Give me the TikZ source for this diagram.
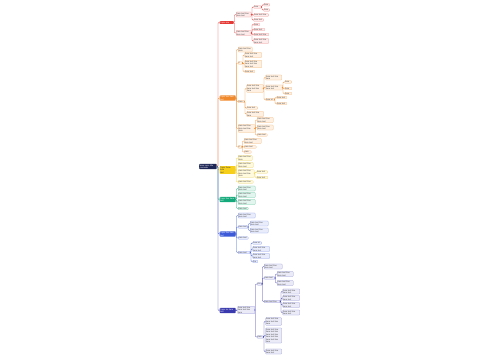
\documentclass[tikz,border=0pt]{standalone}
\usepackage{fontspec}
\setmainfont{Liberation Sans}
\usetikzlibrary{calc}
\definecolor{navy}{HTML}{1E2756}
\definecolor{red}{HTML}{E53935}\definecolor{redL}{HTML}{FDEBEB}\definecolor{redB}{HTML}{F19A9A}
\definecolor{org}{HTML}{F0892B}\definecolor{orgL}{HTML}{FEF1E4}\definecolor{orgB}{HTML}{F4B77A}
\definecolor{yel}{HTML}{F6CF1A}\definecolor{yelL}{HTML}{FFF9DD}\definecolor{yelB}{HTML}{EBD36A}
\definecolor{grn}{HTML}{14A97A}\definecolor{grnL}{HTML}{E2F5EE}\definecolor{grnB}{HTML}{6CCBA6}
\definecolor{blu}{HTML}{3D5BD9}\definecolor{bluL}{HTML}{E8ECFB}\definecolor{bluB}{HTML}{94A5EC}
\definecolor{ind}{HTML}{3A3AAE}\definecolor{indL}{HTML}{EBEBF8}\definecolor{indB}{HTML}{9C9CD9}
\tikzset{
  base/.style={anchor=west, inner sep=0.5pt, rounded corners=0.6pt,
    font=\fontsize{2.1}{2.5}\selectfont, align=left},
  rootbox/.style={base, fill=navy, text=white},
  lone/.style={base, fill=#1, text=white},
  kid/.style={base, fill=#1L, draw=#1B, line width=0.25pt, text=black!75},
  ln/.style={draw=#1, line width=0.35pt, rounded corners=0.8pt},
}
\newcommand\nd[6]{\node[#2,text width=#5pt] (#1) at (#3,#4) {#6};}
\newcommand\cn[3]{\draw[ln=#1] (#2.east) -| ($(#3.west)+(-1.5,0)$) -- (#3.west);}
\begin{document}
\begin{tikzpicture}[x=1pt,y=-1pt]
\useasboundingbox[fill=white] (0,0) rectangle (500,360);
% root
\nd{root}{rootbox}{199}{166.5}{16.5}{Main topic title\\overview}
% level 1
\nd{r}{lone=red}{219.5}{22.5}{13}{Topic one}
\nd{o}{lone=org}{219.5}{98}{15}{Topic two item\\text}
\nd{y}{base,fill=yel,text=black!80}{219.5}{170}{15}{Topic three item\\text}
\nd{g}{lone=grn}{219.5}{199.5}{15}{Topic four item\\text}
\nd{b}{lone=blu}{219.5}{234}{15}{Topic five item\\text}
\nd{p}{lone=ind}{219.5}{310.5}{15}{Topic six item\\text}
\foreach \c/\n in {red/r,org/o,yel/y,grn/g,blu/b,ind/p}{\cn{\c}{root}{\n}}
% red
\nd{ra}{kid=red}{236}{14.5}{14}{Item text line\\item text}
\nd{rb}{kid=red}{236}{33}{14}{Item text line\\item text}
\nd{ra1}{kid=red}{253.5}{7}{7}{Item}
\nd{ra1a}{kid=red}{263.5}{4.8}{5}{Item}
\nd{ra1b}{kid=red}{263.5}{10}{5}{Item}
\nd{ra2}{kid=red}{253.5}{15}{14}{Item text line}
\nd{ra3}{kid=red}{253.5}{20}{9}{Item text}
\nd{rb1}{kid=red}{253.5}{24.5}{5}{Item}
\nd{rb2}{kid=red}{253.5}{29.5}{10}{Item text}
\nd{rb3}{kid=red}{253.5}{34.5}{14}{Item text line}
\nd{rb4}{kid=red}{253.5}{41}{14}{Item text line\\item text}
\foreach \a/\b in {r/ra,r/rb,ra/ra1,ra1/ra1a,ra1/ra1b,ra/ra2,ra/ra3,rb/rb1,rb/rb2,rb/rb3,rb/rb4}{\cn{red}{\a}{\b}}
% orange
\nd{oa}{kid=org}{238}{49.5}{13}{Item text line\\item}
\nd{ob}{kid=org}{238}{63}{3.5}{It}
\nd{ob1}{kid=org}{244.5}{55}{16}{Item text line\\item text}
\nd{ob2}{kid=org}{244.5}{64}{16}{Item text line\\item text line\\item text}
\nd{ob3}{kid=org}{244.5}{71.5}{9}{Item text}
\nd{oc}{kid=org}{238}{101.5}{5}{Item}
\nd{oc1}{kid=org}{246.5}{88.5}{16}{Item text line\\item text line\\item}
\nd{oc1a}{kid=org}{265.5}{77.5}{15}{Item text line\\item}
\nd{oc1b}{kid=org}{265.5}{87.5}{16}{Item text line\\item text}
\nd{oc1b1}{kid=org}{284.5}{82}{6}{Item}
\nd{oc1b2}{kid=org}{284.5}{88.5}{6}{Item}
\nd{oc1b3}{kid=org}{284.5}{93.5}{6}{Item}
\nd{oc1c}{kid=org}{265.5}{99.5}{8}{Item txt}
\nd{oc1c1}{kid=org}{276.5}{97.5}{9}{Item text}
\nd{oc1c2}{kid=org}{276.5}{103.5}{9}{Item text}
\nd{oc2}{kid=org}{246.5}{108}{10}{Item text}
\nd{oc3}{kid=org}{246.5}{114}{16}{Item text line\\item}
\nd{od}{kid=org}{238}{128.5}{16}{Item text line\\item text line\\item}
\nd{od1}{kid=org}{257}{120}{15}{Item text line\\item text}
\nd{od2}{kid=org}{257}{127.5}{15}{Item text line\\item text}
\nd{od3}{kid=org}{257}{135}{9}{Item text}
\nd{oe}{kid=org}{238}{147}{3}{It}
\nd{oe1}{kid=org}{244}{141}{16}{Item text line\\item text}
\nd{oe2}{kid=org}{244}{147}{11}{Item text}
\nd{oe3}{kid=org}{244}{152}{6}{Item}
\foreach \a/\b in {o/oa,o/ob,ob/ob1,ob/ob2,ob/ob3,o/oc,oc/oc1,oc1/oc1a,oc1/oc1b,oc1b/oc1b1,oc1b/oc1b2,oc1b/oc1b3,oc1/oc1c,oc1c/oc1c1,oc1c/oc1c2,oc/oc2,oc/oc3,o/od,od/od1,od/od2,od/od3,o/oe,oe/oe1,oe/oe2,oe/oe3}{\cn{org}{\a}{\b}}
% yellow
\nd{ya}{kid=yel}{238}{158}{13}{Item text line\\item}
\nd{yb}{kid=yel}{238}{165}{14}{Item text line\\item text}
\nd{yc}{kid=yel}{238}{173.5}{15}{Item text line\\item text line\\item}
\nd{yc1}{kid=yel}{256.5}{172}{10}{Item text}
\nd{yc2}{kid=yel}{256.5}{177.5}{10}{Item text}
\nd{yd}{kid=yel}{238}{182}{14}{Item text line}
\foreach \a/\b in {y/ya,y/yb,y/yc,yc/yc1,yc/yc2,y/yd}{\cn{yel}{\a}{\b}}
% green
\nd{ga}{kid=grn}{238}{188.5}{16}{Item text line\\item text}
\nd{gb}{kid=grn}{238}{195}{16}{Item text line\\item text}
\nd{gc}{kid=grn}{238}{202}{16}{Item text line\\item text}
\nd{gd}{kid=grn}{238}{208.5}{9}{Item text}
\foreach \a/\b in {g/ga,g/gb,g/gc,g/gd}{\cn{grn}{\a}{\b}}
% blue
\nd{ba}{kid=blu}{238}{215.5}{16}{Item text line\\item text}
\nd{bb}{kid=blu}{238}{227}{9}{Item text}
\nd{bb1}{kid=blu}{250}{223.5}{17}{Item text line\\item text}
\nd{bb2}{kid=blu}{250}{230.5}{17}{Item text line\\item text}
\nd{bc}{kid=blu}{238}{238}{9}{Item text}
\nd{bd}{kid=blu}{238}{252.5}{11}{Item text}
\nd{bd1}{kid=blu}{252.5}{243}{8}{Item txt}
\nd{bd2}{kid=blu}{252.5}{249}{16}{Item text line\\item text}
\nd{bd3}{kid=blu}{252.5}{256}{16}{Item text line\\item text}
\nd{bd4}{kid=blu}{252.5}{261.5}{4}{Itm}
\foreach \a/\b in {b/ba,b/bb,bb/bb1,bb/bb2,b/bc,b/bd,bd/bd1,bd/bd2,bd/bd3,bd/bd4}{\cn{blu}{\a}{\b}}
% indigo
\nd{pa}{kid=ind}{237.5}{310}{16}{Item text line\\item text line\\item}
\nd{pa1}{kid=ind}{257}{284}{4}{Itm}
\nd{pa1a}{kid=ind}{264}{266.5}{17}{Item text line\\item text}
\nd{pa1b}{kid=ind}{264}{278}{10}{Item text}
\nd{pa1b1}{kid=ind}{277}{274}{15}{Item text line\\item text}
\nd{pa1b2}{kid=ind}{277}{283}{15}{Item text line\\item text}
\nd{pa1c}{kid=ind}{264}{301.5}{15}{Item text line}
\nd{pa1c1}{kid=ind}{282.5}{291.5}{16}{Item text line\\item text}
\nd{pa1c2}{kid=ind}{282.5}{298}{16}{Item text line\\item text}
\nd{pa1c3}{kid=ind}{282.5}{305}{16}{Item text line\\item text}
\nd{pa1c4}{kid=ind}{282.5}{312.5}{16}{Item text line\\item text}
\nd{pa2}{kid=ind}{257}{337}{5}{Item}
\nd{pa21}{kid=ind}{265.5}{321.5}{15}{Item text line\\item text line\\item}
\nd{pa22}{kid=ind}{265.5}{335.5}{15}{Item text line\\item text line\\item text line\\item text line\\item text line\\item}
\nd{pa23}{kid=ind}{265.5}{351.5}{15}{Item text line\\item text}
\foreach \a/\b in {p/pa,pa/pa1,pa1/pa1a,pa1/pa1b,pa1b/pa1b1,pa1b/pa1b2,pa1/pa1c,pa1c/pa1c1,pa1c/pa1c2,pa1c/pa1c3,pa1c/pa1c4,pa/pa2,pa2/pa21,pa2/pa22,pa2/pa23}{\cn{ind}{\a}{\b}}
\end{tikzpicture}
\end{document}
